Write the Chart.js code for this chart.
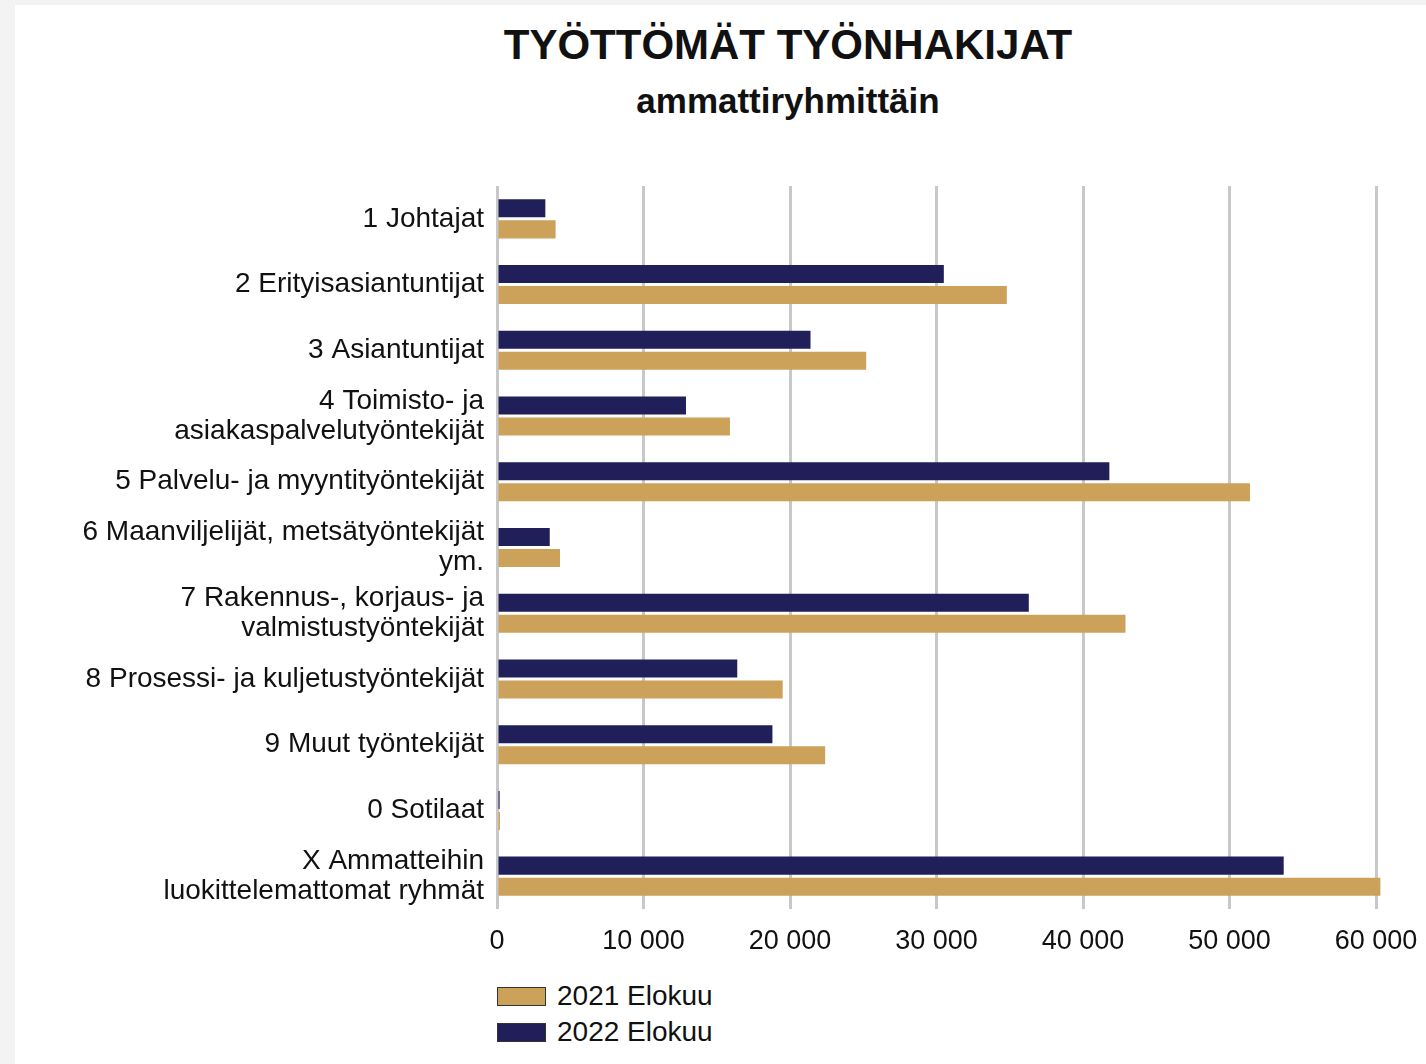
<!DOCTYPE html>
<html lang="fi">
<head>
<meta charset="utf-8">
<title>Työttömät työnhakijat</title>
<script src="https://cdn.jsdelivr.net/npm/chart.js@4.4.0/dist/chart.umd.min.js"></script>
<style>
  body { margin: 0; background: #f3f3f3; font-family: "Liberation Sans", Arial, sans-serif; color: #111; overflow: hidden; }
  #panel { position: absolute; left: 15px; top: 5px; width: 1411px; height: 1059px; background: #fff; }
  .title { position: absolute; left: 473px; width: 600px; text-align: center; font-weight: bold; white-space: nowrap; }
  #t1 { top: 15px; font-size: 42px; line-height: 50px; }
  #t2 { top: 75px; font-size: 35px; line-height: 42px; }
  #wrap { position: absolute; left: 0; top: 145px; width: 1411px; height: 820px; }
  #legend { position: absolute; left: 482px; top: 973px; font-size: 28px; }
  .item { display: flex; align-items: center; height: 36px; }
  .box { width: 47px; height: 17px; border: 1px solid #333; margin-right: 11px; }
</style>
</head>
<body>
<div id="panel">
  <div class="title" id="t1">TYÖTTÖMÄT TYÖNHAKIJAT</div>
  <div class="title" id="t2">ammattiryhmittäin</div>
  <div id="wrap"><canvas id="chart"></canvas></div>
  <div id="legend"></div>
</div>
<script>
// ammattiryhmät
const groups = [
  "1 Johtajat",
  "2 Erityisasiantuntijat",
  "3 Asiantuntijat",
  ["4 Toimisto- ja", "asiakaspalvelutyöntekijät"],
  "5 Palvelu- ja myyntityöntekijät",
  ["6 Maanviljelijät, metsätyöntekijät", "ym."],
  ["7 Rakennus-, korjaus- ja", "valmistustyöntekijät"],
  "8 Prosessi- ja kuljetustyöntekijät",
  "9 Muut työntekijät",
  "0 Sotilaat",
  ["X Ammatteihin", "luokittelemattomat ryhmät"]
];
const elokuu2022 = [3300, 30500, 21400, 12900, 41800, 3600, 36300, 16400, 18800, 180, 53700];
const elokuu2021 = [4000, 34800, 25200, 15900, 51400, 4300, 42900, 19500, 22400, 200, 60300];
const xTicks = [0, 10000, 20000, 30000, 40000, 50000, 60000];

const navy = "#201f5a";
const gold = "#cca159";
const gridClr = "#c8c8c8";
const font = "'Liberation Sans', Arial, sans-serif";

const ctx = document.getElementById("chart").getContext("2d");
const chart = new Chart(ctx, {
  type: "bar",
  data: {
    labels: groups,
    datasets: [
      { label: "2022 Elokuu", data: elokuu2022, backgroundColor: navy, clip: false },
      { label: "2021 Elokuu", data: elokuu2021, backgroundColor: gold, clip: false }
    ]
  },
  options: {
    indexAxis: "y",
    responsive: true,
    maintainAspectRatio: false,
    animation: false,
    categoryPercentage: 0.64,
    barPercentage: 0.857,
    layout: { padding: { left: 0, right: 50, top: 36, bottom: 0 } },
    scales: {
      x: {
        min: 0,
        max: 60000,
        afterBuildTicks: (s) => { s.ticks = xTicks.map(v => ({ value: v })); },
        afterFit: (s) => { s.height = 61; s.paddingLeft = 0; s.paddingRight = 0; },
        grid: { color: gridClr, lineWidth: 3, drawTicks: false },
        border: { display: false },
        ticks: {
          padding: 17,
          color: "#111",
          font: { family: font, size: 27, lineHeight: 1.15 },
          callback: (v) => String(v).replace(/\B(?=(\d{3})+(?!\d))/g, " ")
        }
      },
      y: {
        afterFit: (s) => { s.width = 482; s.paddingTop = 0; s.paddingBottom = 0; },
        grid: { display: false, drawTicks: false },
        border: { display: false },
        ticks: {
          padding: 13,
          color: "#111",
          font: { family: font, size: 28, lineHeight: 1.08 }
        }
      }
    },
    plugins: {
      legend: { display: false },
      tooltip: { enabled: false }
    }
  }
});

// selite: 2021 ensin, kuten alkuperäisessä
const legend = document.getElementById("legend");
chart.data.datasets.slice().reverse().forEach(ds => {
  const row = document.createElement("div");
  row.className = "item";
  row.innerHTML = `<span class="box" style="background:${ds.backgroundColor}"></span>${ds.label}`;
  legend.appendChild(row);
});
</script>
</body>
</html>
